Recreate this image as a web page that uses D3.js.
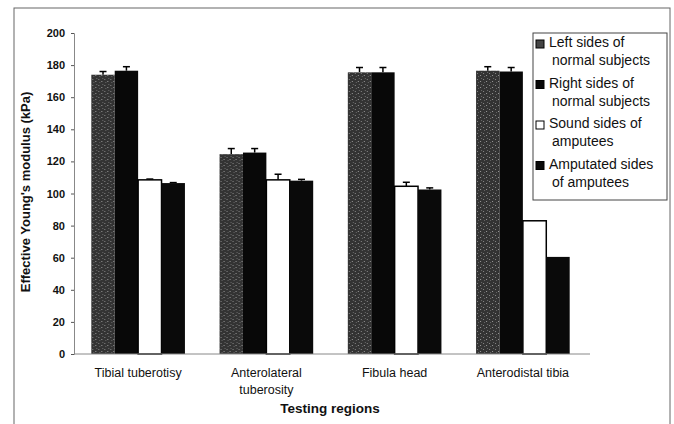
<!DOCTYPE html>
<html>
<head>
  <script src="https://d3js.org/d3.v7.min.js"></script>
  <style>
    body { margin: 0; background: #fff; }
    text { font-family: "Liberation Sans", Arial, sans-serif; fill: #111; }
  </style>
</head>
<body>
  <div id="chart"></div>
  <script>
    // data
    const regions = ["Tibial tuberotisy", "Anterolateral tuberosity", "Fibula head", "Anterodistal tibia"];
    const regionLines = [["Tibial tuberotisy"], ["Anterolateral", "tuberosity"], ["Fibula head"], ["Anterodistal tibia"]];
    const seriesNames = ["Left sides of normal subjects", "Right sides of normal subjects", "Sound sides of amputees", "Amputated sides of amputees"];
    const legendLines = [["Left sides of", "normal subjects"], ["Right sides of", "normal subjects"], ["Sound sides of", "amputees"], ["Amputated sides", "of amputees"]];
    const leftNormal = [174, 124.5, 175.5, 176.5];
    const rightNormal = [176.5, 125.5, 175.5, 176];
    const soundAmp = [108.5, 108.5, 104.5, 83];
    const amputated = [106.5, 108, 102.5, 60.5];
    const leftErr = [2, 3.5, 3, 2.5];
    const rightErr = [2.5, 2.5, 3, 2.5];
    const soundErr = [0.5, 3.5, 2.5, 0];
    const amputatedErr = [0.3, 0.8, 1, 0];
    const yTicks = [0, 20, 40, 60, 80, 100, 120, 140, 160, 180, 200];

    const series = [leftNormal, rightNormal, soundAmp, amputated];
    const errors = [leftErr, rightErr, soundErr, amputatedErr];

    const width = 674, height = 424;
    const svg = d3.select("#chart").append("svg")
      .attr("width", width).attr("height", height);

    // textured dark gray for the left sides
    const defs = svg.append("defs");
    const pat = defs.append("pattern").attr("id", "mottle")
      .attr("patternUnits", "userSpaceOnUse").attr("width", 6).attr("height", 6);
    pat.append("rect").attr("width", 6).attr("height", 6).attr("fill", "#333");
    pat.append("rect").attr("x", 1).attr("y", 1).attr("width", 1).attr("height", 1).attr("fill", "#888");
    pat.append("rect").attr("x", 4).attr("y", 3).attr("width", 1).attr("height", 1).attr("fill", "#999");
    pat.append("rect").attr("x", 2).attr("y", 4).attr("width", 1).attr("height", 1).attr("fill", "#666");
    pat.append("rect").attr("x", 5).attr("y", 0).attr("width", 1).attr("height", 1).attr("fill", "#6a6a6a");

    const fills = ["url(#mottle)", "#080808", "#ffffff", "#0a0a0a"];

    // outer frame
    svg.append("rect").attr("x", 14).attr("y", 8).attr("width", 656).attr("height", 430)
      .attr("fill", "none").attr("stroke", "#666").attr("stroke-width", 1);

    const y = d3.scaleLinear().domain([0, 200]).range([354, 33]);
    const x0 = d3.scaleBand().domain(regions).range([74, 587]).paddingInner(0.27).paddingOuter(0.135);
    const x1 = d3.scaleBand().domain(d3.range(4)).range([0, x0.bandwidth()]);

    // y axis
    const yAxis = svg.append("g").attr("transform", "translate(74,0)")
      .call(d3.axisLeft(y).tickValues(yTicks).tickSize(3).tickPadding(6));
    yAxis.select(".domain").attr("stroke", "#888");
    yAxis.selectAll(".tick line").attr("stroke", "#555");
    yAxis.selectAll("text").attr("font-size", 11).attr("font-weight", "bold").attr("fill", "#111");

    // bars
    const groups = svg.selectAll(".grp").data(regions).enter().append("g")
      .attr("transform", d => `translate(${x0(d)},0)`);

    groups.each(function (r, gi) {
      const g = d3.select(this);
      d3.range(4).forEach(si => {
        const v = series[si][gi];
        const bx = x1(si), bw = x1.bandwidth();
        const e = errors[si][gi];
        if (e > 0) {
          const cx = bx + bw / 2;
          g.append("line").attr("x1", cx).attr("x2", cx)
            .attr("y1", y(v)).attr("y2", y(v + e)).attr("stroke", "#000").attr("stroke-width", 1.5);
          g.append("line").attr("x1", cx - 3.5).attr("x2", cx + 3.5)
            .attr("y1", y(v + e)).attr("y2", y(v + e)).attr("stroke", "#000").attr("stroke-width", 1.5);
        }
        g.append("rect").attr("x", bx).attr("y", y(v))
          .attr("width", bw).attr("height", y(0) - y(v))
          .attr("fill", fills[si])
          .attr("stroke", si === 2 ? "#000" : "none").attr("stroke-width", 1.5);
      });
    });

    // x axis line
    svg.append("line").attr("x1", 74).attr("x2", 590).attr("y1", y(0)).attr("y2", y(0))
      .attr("stroke", "#888");

    // category labels
    regions.forEach((r, i) => {
      const t = svg.append("text").attr("x", x0(r) + x0.bandwidth() / 2).attr("y", 377)
        .attr("text-anchor", "middle").attr("font-size", 12.5);
      regionLines[i].forEach((ln, k) => {
        t.append("tspan").attr("x", x0(r) + x0.bandwidth() / 2).attr("dy", k === 0 ? 0 : 17).text(ln);
      });
    });

    // axis titles
    svg.append("text").attr("x", 330).attr("y", 413).attr("text-anchor", "middle")
      .attr("font-size", 13.5).attr("font-weight", "bold").text("Testing regions");
    svg.append("text").attr("transform", "translate(30,192) rotate(-90)")
      .attr("text-anchor", "middle").attr("font-size", 13).attr("font-weight", "bold")
      .text("Effective Young's modulus (kPa)");

    // legend
    const lg = svg.append("g");
    lg.append("rect").attr("x", 533).attr("y", 33).attr("width", 134).attr("height", 167)
      .attr("fill", "#fff").attr("stroke", "#444").attr("stroke-width", 1);
    seriesNames.forEach((name, i) => {
      const top = 47 + i * 40.5;
      lg.append("rect").attr("x", 536).attr("y", top - 7).attr("width", 8).attr("height", 8)
        .attr("fill", i === 0 ? "#444" : fills[i])
        .attr("stroke", "#000").attr("stroke-width", 1);
      const t = lg.append("text").attr("x", 549).attr("y", top).attr("font-size", 14);
      legendLines[i].forEach((ln, k) => {
        t.append("tspan").attr("x", k === 0 ? 549 : 552).attr("dy", k === 0 ? 0 : 18).text(ln);
      });
    });
  </script>
</body>
</html>
